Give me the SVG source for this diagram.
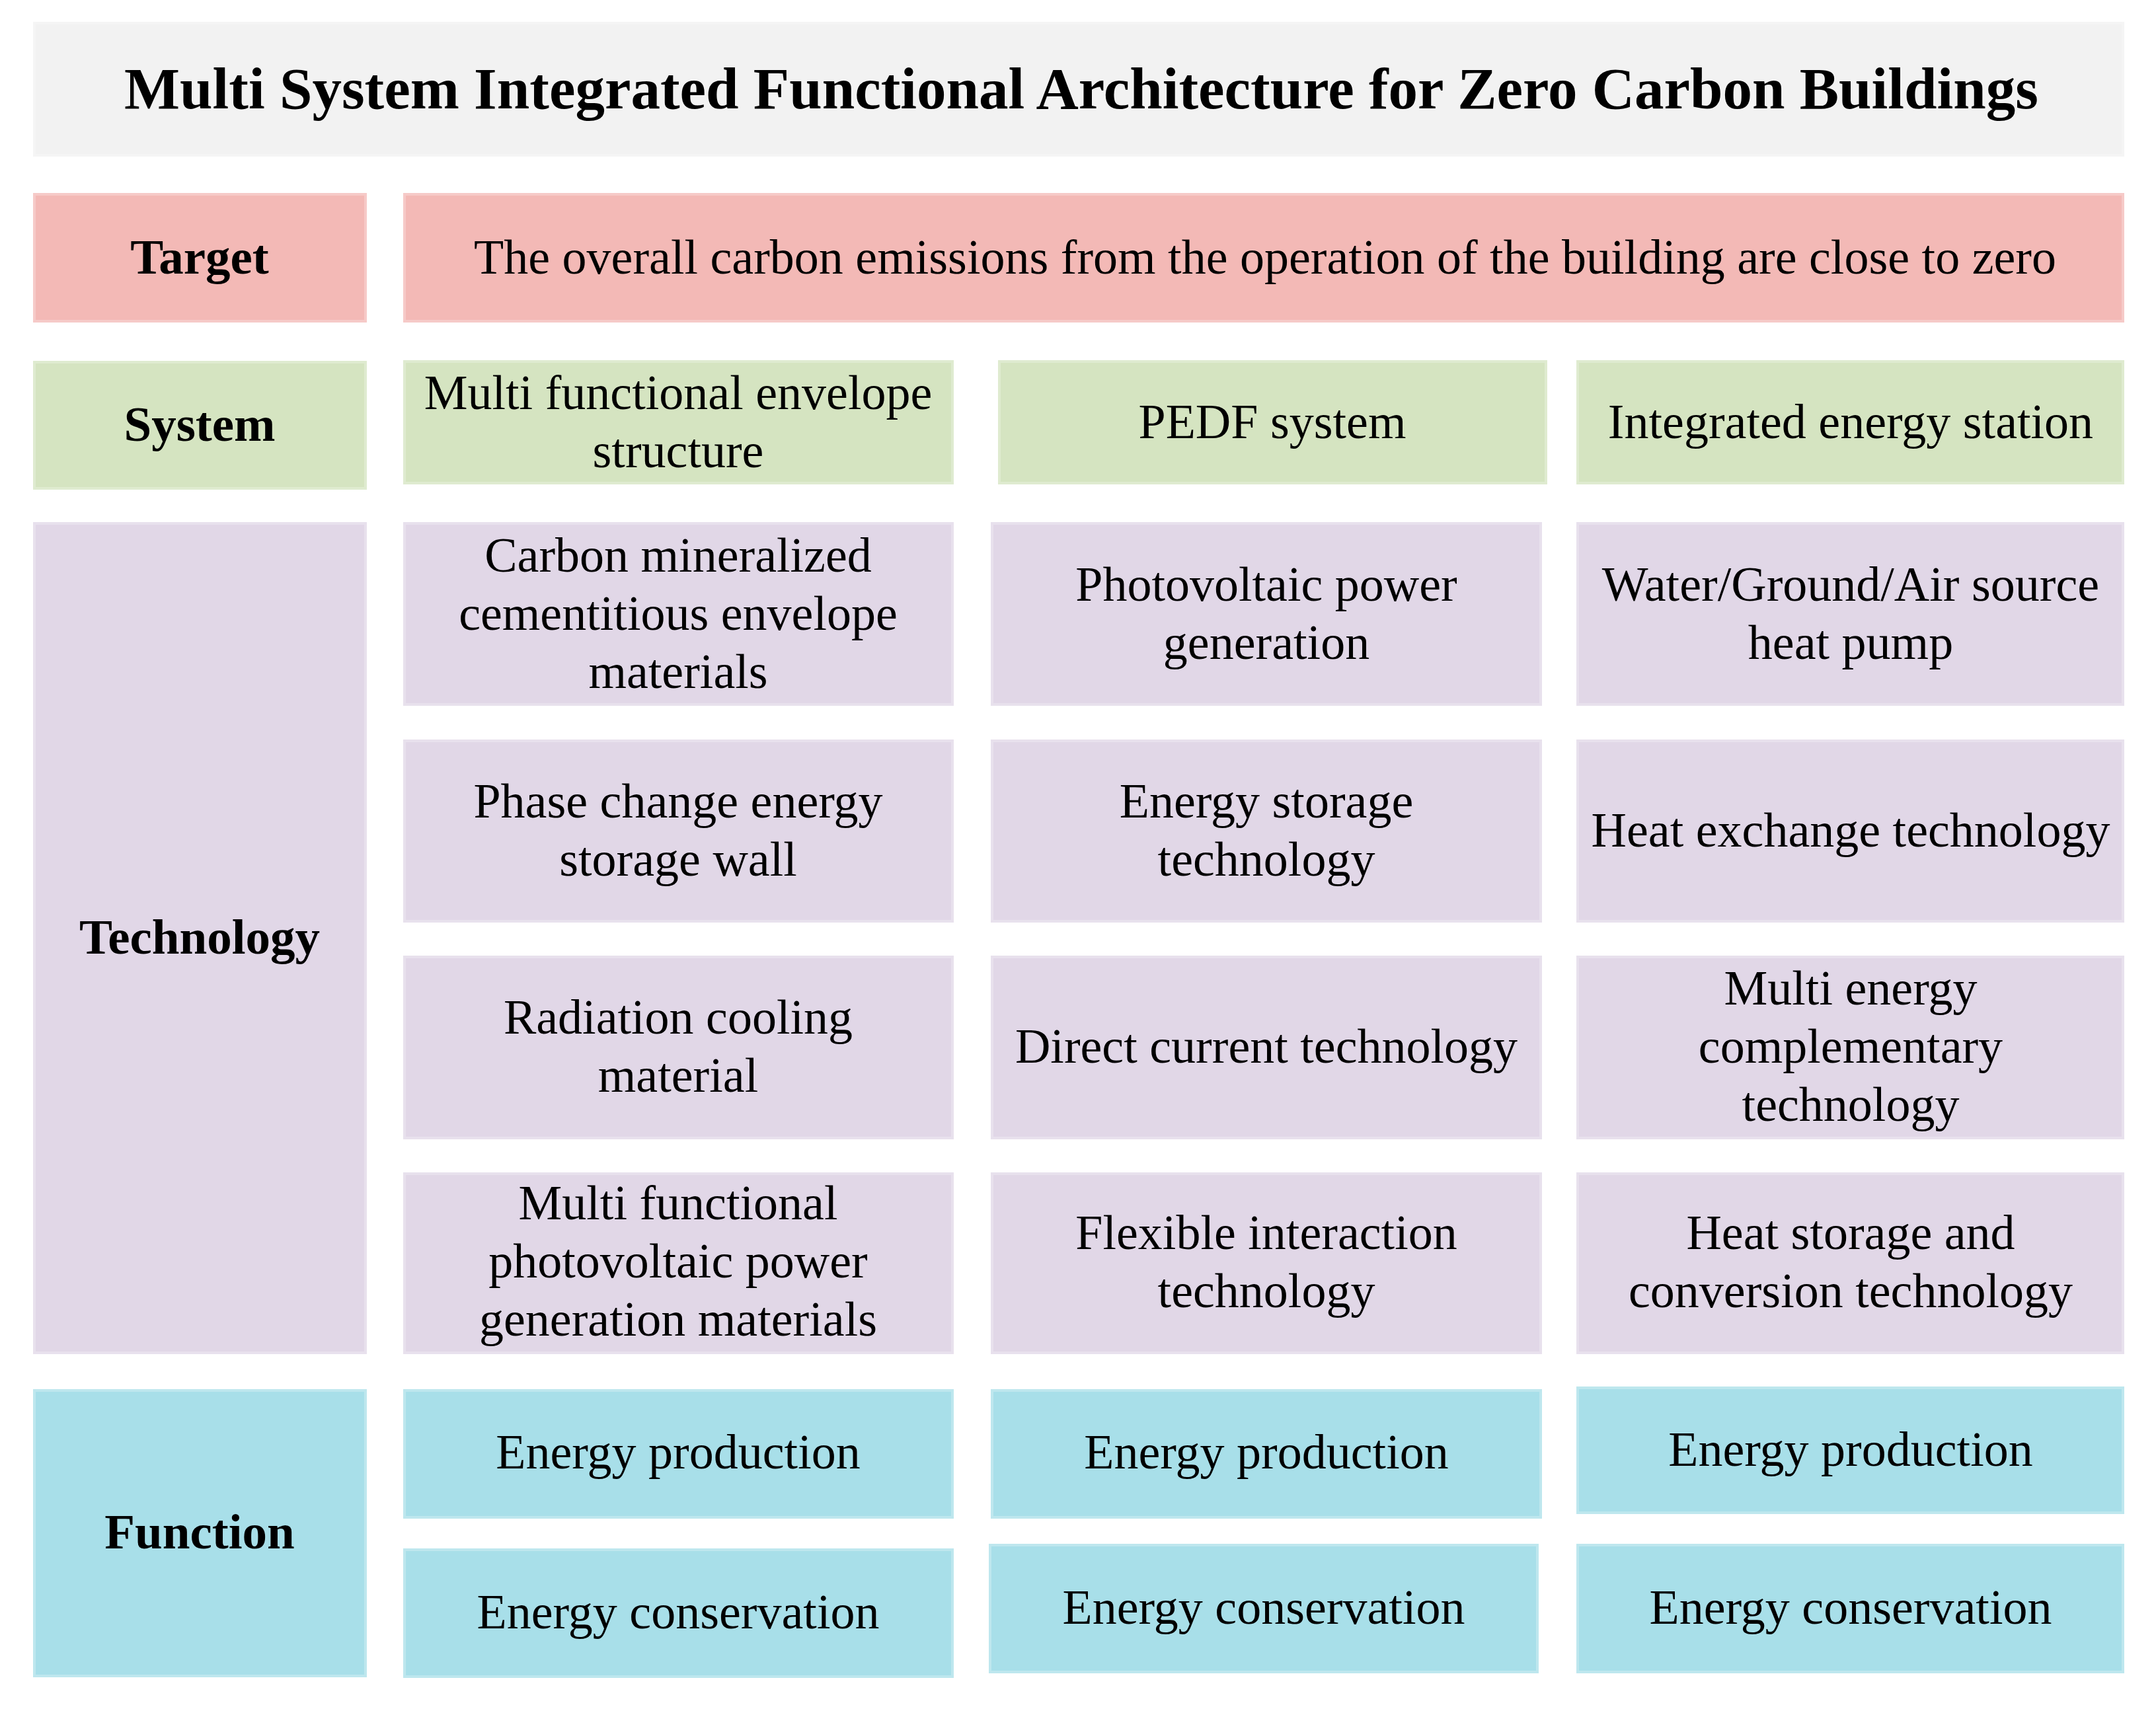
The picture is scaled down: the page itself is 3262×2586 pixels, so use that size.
<svg xmlns="http://www.w3.org/2000/svg" width="3262" height="2586" viewBox="0 0 3262 2586">
<style>
.box{stroke:#ffffff;stroke-opacity:0.25;stroke-width:8}
.gray{fill:#F2F2F2}
.pink{fill:#F3B9B6}
.green{fill:#D5E4C1}
.purple{fill:#E1D7E7}
.cyan{fill:#A8DFE9}
text{font-family:"Liberation Serif","Times New Roman",serif;fill:#000;text-anchor:middle}
.t{font-size:74px}
.b{font-size:75px;font-weight:bold}
.title{font-size:89px;font-weight:bold}
</style>
<rect width="3262" height="2586" fill="#ffffff"/>
<g id="title"><rect class="box gray" x="50" y="33" width="3164" height="204"/><text class="title" x="1636" y="164">Multi System Integrated Functional Architecture for Zero Carbon Buildings</text></g>
<g id="target-label"><rect class="box pink" x="50" y="292" width="505" height="196"/><text class="b" x="302" y="414">Target</text></g>
<g id="target"><rect class="box pink" x="610" y="292" width="2604" height="196"/><text class="t" x="1914" y="414">The overall carbon emissions from the operation of the building are close to zero</text></g>
<g id="system-label"><rect class="box green" x="50" y="546" width="505" height="195"/><text class="b" x="302" y="667">System</text></g>
<g id="sys1"><rect class="box green" x="610" y="545" width="833" height="188"/><text class="t" x="1026" y="619">Multi functional envelope</text><text class="t" x="1026" y="707">structure</text></g>
<g id="sys2"><rect class="box green" x="1510" y="545" width="831" height="188"/><text class="t" x="1925" y="663">PEDF system</text></g>
<g id="sys3"><rect class="box green" x="2385" y="545" width="829" height="188"/><text class="t" x="2800" y="663">Integrated energy station</text></g>
<g id="tech-label"><rect class="box purple" x="50" y="790" width="505" height="1259"/><text class="b" x="302" y="1443">Technology</text></g>
<g id="t11"><rect class="box purple" x="610" y="790" width="833" height="278"/><text class="t" x="1026" y="865">Carbon mineralized</text><text class="t" x="1026" y="953">cementitious envelope</text><text class="t" x="1026" y="1041">materials</text></g>
<g id="t12"><rect class="box purple" x="610" y="1119" width="833" height="277"/><text class="t" x="1026" y="1237">Phase change energy</text><text class="t" x="1026" y="1325">storage wall</text></g>
<g id="t13"><rect class="box purple" x="610" y="1446" width="833" height="278"/><text class="t" x="1026" y="1564">Radiation cooling</text><text class="t" x="1026" y="1652">material</text></g>
<g id="t14"><rect class="box purple" x="610" y="1774" width="833" height="275"/><text class="t" x="1026" y="1845">Multi functional</text><text class="t" x="1026" y="1933">photovoltaic power</text><text class="t" x="1026" y="2021">generation materials</text></g>
<g id="t21"><rect class="box purple" x="1499" y="790" width="834" height="278"/><text class="t" x="1916" y="909">Photovoltaic power</text><text class="t" x="1916" y="997">generation</text></g>
<g id="t22"><rect class="box purple" x="1499" y="1119" width="834" height="277"/><text class="t" x="1916" y="1237">Energy storage</text><text class="t" x="1916" y="1325">technology</text></g>
<g id="t23"><rect class="box purple" x="1499" y="1446" width="834" height="278"/><text class="t" x="1916" y="1608">Direct current technology</text></g>
<g id="t24"><rect class="box purple" x="1499" y="1774" width="834" height="275"/><text class="t" x="1916" y="1890">Flexible interaction</text><text class="t" x="1916" y="1978">technology</text></g>
<g id="t31"><rect class="box purple" x="2385" y="790" width="829" height="278"/><text class="t" x="2800" y="909">Water/Ground/Air source</text><text class="t" x="2800" y="997">heat pump</text></g>
<g id="t32"><rect class="box purple" x="2385" y="1119" width="829" height="277"/><text class="t" x="2800" y="1281">Heat exchange technology</text></g>
<g id="t33"><rect class="box purple" x="2385" y="1446" width="829" height="278"/><text class="t" x="2800" y="1520">Multi energy</text><text class="t" x="2800" y="1608">complementary</text><text class="t" x="2800" y="1696">technology</text></g>
<g id="t34"><rect class="box purple" x="2385" y="1774" width="829" height="275"/><text class="t" x="2800" y="1890">Heat storage and</text><text class="t" x="2800" y="1978">conversion technology</text></g>
<g id="function-label"><rect class="box cyan" x="50" y="2102" width="505" height="436"/><text class="b" x="302" y="2343">Function</text></g>
<g id="f11"><rect class="box cyan" x="610" y="2102" width="833" height="196"/><text class="t" x="1026" y="2222">Energy production</text></g>
<g id="f12"><rect class="box cyan" x="610" y="2343" width="833" height="196"/><text class="t" x="1026" y="2464">Energy conservation</text></g>
<g id="f21"><rect class="box cyan" x="1499" y="2102" width="834" height="196"/><text class="t" x="1916" y="2222">Energy production</text></g>
<g id="f22"><rect class="box cyan" x="1496" y="2336" width="832" height="196"/><text class="t" x="1912" y="2457">Energy conservation</text></g>
<g id="f31"><rect class="box cyan" x="2385" y="2098" width="829" height="193"/><text class="t" x="2800" y="2218">Energy production</text></g>
<g id="f32"><rect class="box cyan" x="2385" y="2336" width="829" height="196"/><text class="t" x="2800" y="2457">Energy conservation</text></g>
<g id="connectors"></g>
</svg>
